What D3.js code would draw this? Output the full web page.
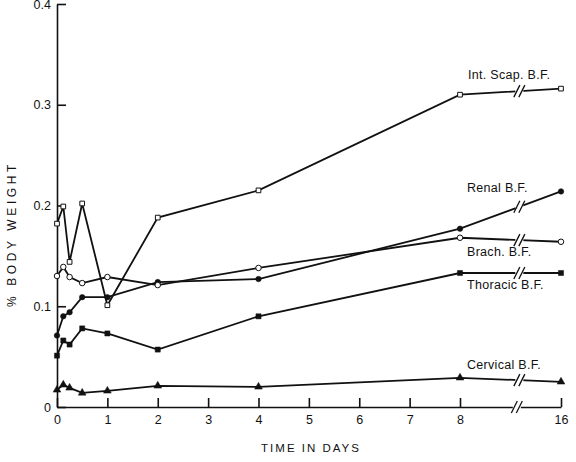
<!DOCTYPE html>
<html>
<head>
<meta charset="utf-8">
<script src="https://cdn.jsdelivr.net/npm/d3@7"></script>
<style>
  body { margin: 0; background: #fff; }
  svg { display: block; }
  text { font-family: "Liberation Sans", Arial, sans-serif; fill: #111; }
</style>
</head>
<body>
<div id="chart"></div>
<script>
// Time points (days)
const days = [0, 0.125, 0.25, 0.5, 1, 2, 4, 8, 16];

// % body weight per fat body
const intScap  = [0.182, 0.199, 0.144, 0.202, 0.101, 0.188, 0.215, 0.310, 0.316];
const brach    = [0.130, 0.139, 0.129, 0.123, 0.129, 0.121, 0.138, 0.168, 0.164];
const renal    = [0.071, 0.090, 0.094, 0.109, 0.109, 0.124, 0.127, 0.177, 0.214];
const thoracic = [0.051, 0.066, 0.062, 0.078, 0.073, 0.057, 0.090, 0.133, 0.133];
const cervical = [0.017, 0.022, 0.019, 0.014, 0.016, 0.021, 0.020, 0.029, 0.025];

const seriesNames = ['Int. Scap. B.F.', 'Renal B.F.', 'Brach. B.F.', 'Thoracic B.F.', 'Cervical B.F.'];
const xTicks = [0, 1, 2, 3, 4, 5, 6, 7, 8, 16];
const yTicks = [0, 0.1, 0.2, 0.3, 0.4];
const yTickLabels = ['0', '0.1', '0.2', '0.3', '0.4'];
const breakDay = 12.7;

const svgWidth = 576;
const svgHeight = 462;

const svg = d3.select('#chart')
  .append('svg')
  .attr('width', svgWidth)
  .attr('height', svgHeight);

// broken x axis: 8 -> 16 squeezed into the space of two days
const xScale = d3.scaleLinear()
  .domain([0, 8, 16])
  .range([57, 460, 561]);
const yScale = d3.scaleLinear()
  .domain([0, 0.4])
  .range([407, 4]);

// axes
const xAxis = d3.axisBottom(xScale)
  .tickValues(xTicks)
  .tickFormat(d3.format('d'))
  .tickSizeInner(-9)
  .tickSizeOuter(0)
  .tickPadding(8);
const yAxis = d3.axisLeft(yScale)
  .tickValues(yTicks)
  .tickFormat((d, i) => yTickLabels[i])
  .tickSizeInner(-9)
  .tickSizeOuter(0)
  .tickPadding(6);

const gx = svg.append('g')
  .attr('transform', `translate(0, ${yScale(0)})`)
  .call(xAxis);
const gy = svg.append('g')
  .attr('transform', `translate(${xScale(0)}, 0)`)
  .call(yAxis);

[gx, gy].forEach(g => {
  g.selectAll('path, line').attr('stroke', '#111').attr('stroke-width', 1.6);
  g.selectAll('text').style('font-size', '12.5px').attr('fill', '#111');
});

// series
const series = [
  { name: seriesNames[0], values: intScap, marker: 'square', filled: false, label: [468, 79] },
  { name: seriesNames[1], values: renal, marker: 'circle', filled: true, label: [467, 192] },
  { name: seriesNames[2], values: brach, marker: 'circle', filled: false, label: [467, 256] },
  { name: seriesNames[3], values: thoracic, marker: 'square', filled: true, label: [467, 289] },
  { name: seriesNames[4], values: cervical, marker: 'triangle', filled: true, label: [467, 369] }
];

const line = d3.line()
  .x(d => xScale(d[0]))
  .y(d => yScale(d[1]));

// draw a "//" break mark at (bx, by), with a white gap under it
function breakMark(g, bx, by) {
  g.append('line')
    .attr('x1', bx - 4).attr('y1', by)
    .attr('x2', bx + 4).attr('y2', by)
    .attr('stroke', '#fff').attr('stroke-width', 4);
  [-2.5, 2.5].forEach(dx => {
    g.append('line')
      .attr('x1', bx + dx - 3).attr('y1', by + 6)
      .attr('x2', bx + dx + 3).attr('y2', by - 6)
      .attr('stroke', '#111').attr('stroke-width', 1.3);
  });
}

series.forEach(s => {
  const pts = days.map((d, i) => [d, s.values[i]]);
  const g = svg.append('g');

  g.append('path')
    .datum(pts)
    .attr('d', line)
    .attr('fill', 'none')
    .attr('stroke', '#111')
    .attr('stroke-width', 1.8);

  // break on the 8 -> 16 segment
  const v8 = s.values[7], v16 = s.values[8];
  const t = (breakDay - 8) / 8;
  breakMark(g, xScale(breakDay), yScale(v8 + (v16 - v8) * t));

  const sym = s.marker === 'square' ? d3.symbolSquare
    : s.marker === 'circle' ? d3.symbolCircle : d3.symbolTriangle;
  const size = s.marker === 'triangle' ? 26 : s.marker === 'square' ? (s.filled ? 26 : 22) : 24;

  g.selectAll('.pt')
    .data(pts)
    .enter()
    .append('path')
    .attr('class', 'pt')
    .attr('transform', d => `translate(${xScale(d[0])}, ${yScale(d[1])})`)
    .attr('d', d3.symbol().type(sym).size(size))
    .attr('fill', s.filled ? '#111' : '#fff')
    .attr('stroke', '#111')
    .attr('stroke-width', s.filled ? 0.5 : 1);

  svg.append('text')
    .attr('x', s.label[0])
    .attr('y', s.label[1])
    .style('font-size', '12.5px')
    .style('letter-spacing', '0.3px')
    .text(s.name);
});

// break on the x axis
breakMark(svg.append('g'), xScale(12.5), yScale(0));

// axis titles
svg.append('text')
  .attr('x', 311)
  .attr('y', 452)
  .attr('text-anchor', 'middle')
  .style('font-size', '11.5px')
  .style('letter-spacing', '2px')
  .text('TIME IN DAYS');

svg.append('text')
  .attr('transform', 'translate(16, 234) rotate(-90)')
  .attr('text-anchor', 'middle')
  .style('font-size', '12px')
  .style('letter-spacing', '3.6px')
  .text('% BODY WEIGHT');
</script>
</body>
</html>
